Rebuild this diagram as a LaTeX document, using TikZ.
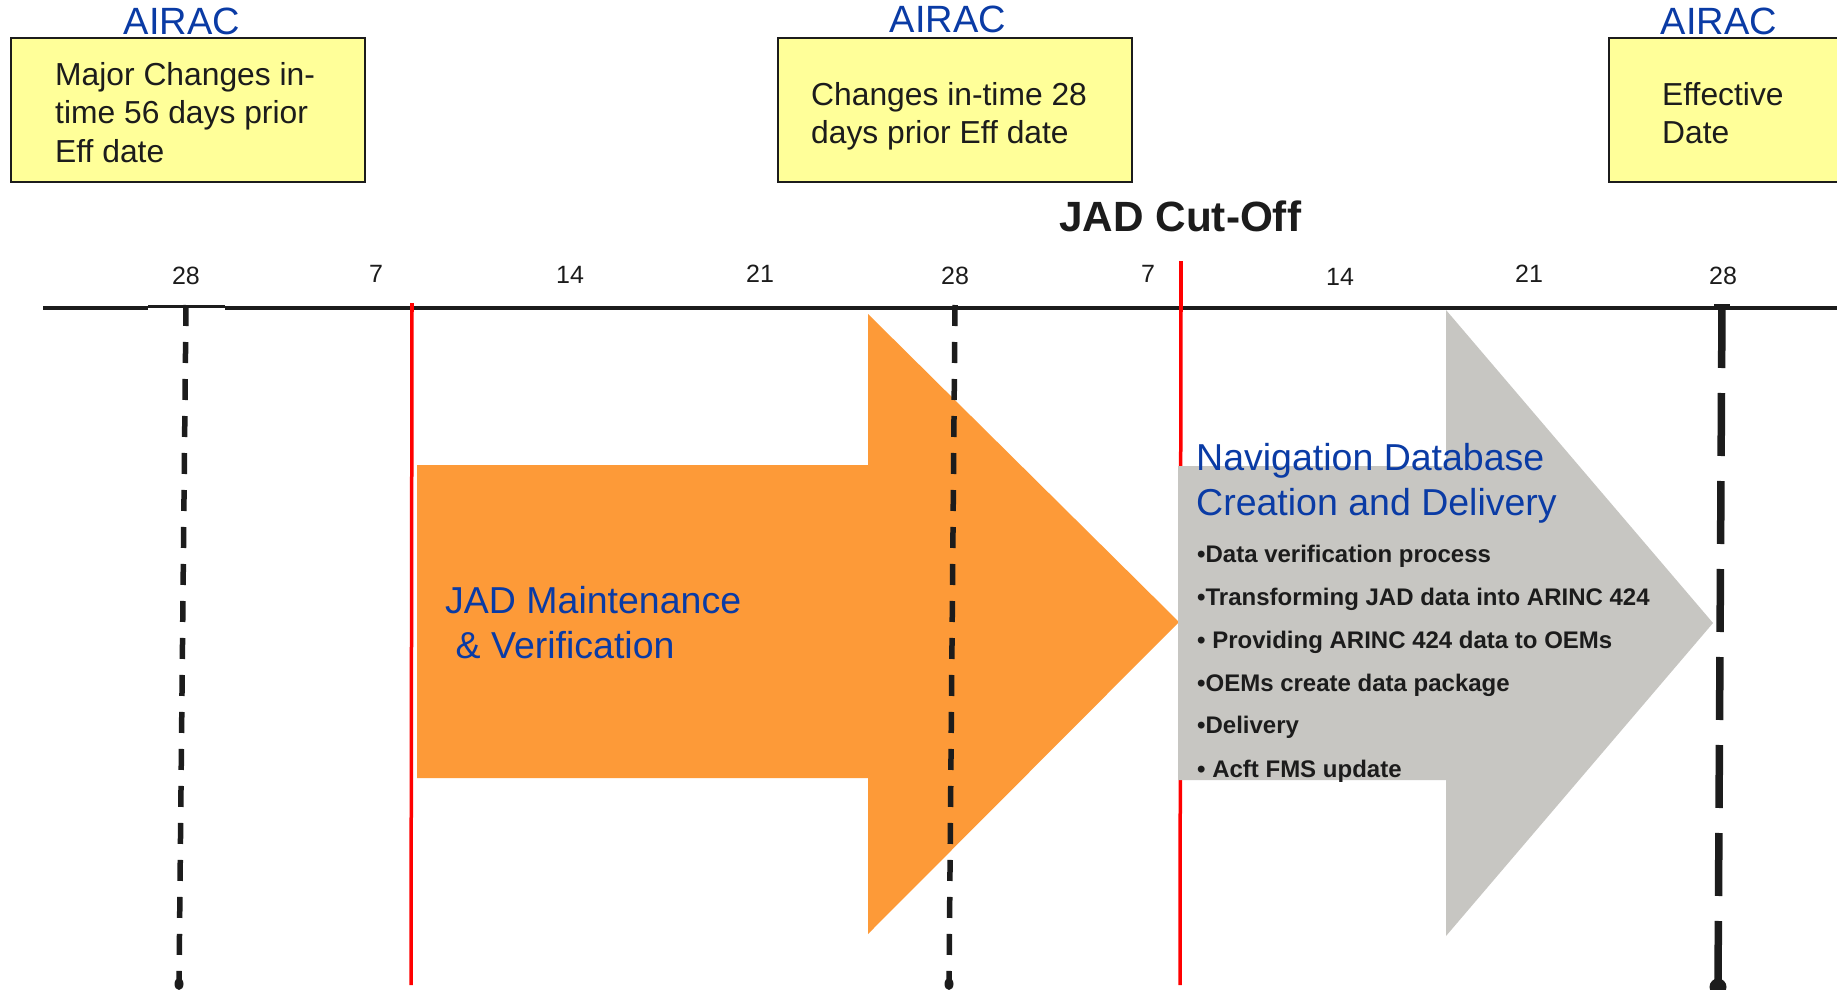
\documentclass[tikz,border=0pt]{standalone}
\usepackage{fontspec}
\setmainfont{Liberation Sans}
\definecolor{airacblue}{HTML}{0A3BA5}
\definecolor{yfill}{HTML}{FFFF99}
\definecolor{orng}{HTML}{FD9A38}
\definecolor{gry}{HTML}{C7C6C2}
\definecolor{ink}{HTML}{1C1C1C}
\definecolor{redl}{HTML}{FF0000}
\begin{document}
\begin{tikzpicture}[x=1pt,y=-1pt,
  ybox/.style={draw=ink, line width=2pt, fill=yfill, rectangle, inner sep=0pt, anchor=north west},
  airactxt/.style={text=airacblue, font=\fontsize{38}{38}\selectfont, anchor=base, inner sep=0pt},
  btxt/.style={text=ink, font=\fontsize{31.8}{38}\selectfont, anchor=base west, inner sep=0pt},
  ticktxt/.style={text=ink, font=\fontsize{25}{25}\selectfont, anchor=base, inner sep=0pt},
  phasetxt/.style={text=airacblue, font=\fontsize{37.5}{45}\selectfont, anchor=base west, inner sep=0pt},
  bultxt/.style={text=ink, font=\bfseries\fontsize{24}{24}\selectfont, anchor=base west, inner sep=0pt},
  cuttxt/.style={text=ink, font=\bfseries\fontsize{42.3}{42}\selectfont, anchor=base west, inner sep=0pt},
  redline/.style={draw=redl, line width=3.5pt},
  shortdash/.style={draw=ink, line width=5.5pt, dash pattern=on 21pt off 16pt},
  longdash/.style={draw=ink, line width=7.5pt, dash pattern=on 63pt off 25pt},
  timeline/.style={draw=ink, line width=4.5pt}
]
\useasboundingbox (0,0) rectangle (1837,990);
\fill[white] (0,0) rectangle (1837,990);

% yellow AIRAC boxes
\node[ybox, minimum width=354pt, minimum height=144pt] (box1) at (10,37) {};
\node[ybox, minimum width=354pt, minimum height=144pt] (box2) at (777,37) {};
\node[ybox, minimum width=270pt, minimum height=144pt] (box3) at (1608,37) {};

\node[airactxt] (air1) at (182,35) {AIRAC};
\node[airactxt] (air2) at (948,33) {AIRAC};
\node[airactxt] (air3) at (1719,35) {AIRAC};

\node[btxt] (b1a) at (55,85) {Major Changes in-};
\node[btxt] (b1b) at (55,123) {time 56 days prior};
\node[btxt] (b1c) at (55,162) {Eff date};
\node[btxt] (b2a) at (811,105) {Changes in-time 28};
\node[btxt] (b2b) at (811,143) {days prior Eff date};
\node[btxt] (b3a) at (1662,105) {Effective};
\node[btxt] (b3b) at (1662,143) {Date};

% JAD cut-off title
\node[cuttxt] (cut) at (1059,231) {JAD Cut-Off};

% tick labels
\node[ticktxt] (t1) at (186,284) {28};
\node[ticktxt] (t2) at (376,282) {7};
\node[ticktxt] (t3) at (570,283) {14};
\node[ticktxt] (t4) at (760,282) {21};
\node[ticktxt] (t5) at (955,284) {28};
\node[ticktxt] (t6) at (1148,282) {7};
\node[ticktxt] (t7) at (1340,285) {14};
\node[ticktxt] (t8) at (1529,282) {21};
\node[ticktxt] (t9) at (1723,284) {28};

% phase arrows
\fill[orng] (417,465) -- (868,465) -- (868,314) -- (1179,622) -- (868,934) -- (868,778) -- (417,778) -- cycle;

% red lines (coordinates)
\coordinate (r1t) at (412,303);
\coordinate (r1b) at (411,985);
\coordinate (r2t) at (1181,261);
\coordinate (r2b) at (1180,985);
\draw[redline] (r1t) -- (r1b);
\draw[redline] (r2t) -- (r2b);

\fill[gry] (1178,466) -- (1446,466) -- (1446,310) -- (1713,623) -- (1446,936) -- (1446,780) -- (1178,780) -- cycle;

% timeline
\coordinate (tl0) at (43,308);
\coordinate (tl1) at (148,308);
\coordinate (tl2) at (148,306.5);
\coordinate (tl3) at (225,306.5);
\coordinate (tl4) at (225,308);
\coordinate (tl5) at (1845,308);
\draw[timeline] (tl0) -- (tl1);
\draw[draw=ink, line width=2.2pt] (tl2) -- (tl3);
\draw[timeline] (tl4) -- (tl5);

% AIRAC dashed lines
\coordinate (d1t) at (186,305);
\coordinate (d1b) at (179,984);
\coordinate (d2t) at (955,305);
\coordinate (d2b) at (949,984);
\coordinate (d3t) at (1722,305);
\coordinate (d3b) at (1718,984);
\draw[shortdash] (d1t) -- (d1b);
\draw[shortdash] (d2t) -- (d2b);
\draw[longdash] (d3t) -- (d3b);
\fill[ink] (d1b) ellipse [x radius=4.5pt, y radius=6pt];
\fill[ink] (d2b) ellipse [x radius=4.5pt, y radius=6pt];
\fill[ink] (1718,987) circle [radius=8.5pt];
\fill[ink] (1714,304) rectangle (1730,310);

% red over timeline
\draw[redline] (412,303) -- (412,312);
\draw[redline] (1181,261) -- (1181,312);

% phase texts
\node[phasetxt] (m1) at (445,613) {JAD Maintenance};
\node[phasetxt] (m2) at (445,658) {\ \& Verification};
\node[phasetxt] (n1) at (1196,470) {Navigation Database};
\node[phasetxt] (n2) at (1196,515) {Creation and Delivery};

\node[bultxt] (u1) at (1197,562) {•Data verification process};
\node[bultxt] (u2) at (1197,605) {•Transforming JAD data into ARINC 424};
\node[bultxt] (u3) at (1197,648) {• Providing ARINC 424 data to OEMs};
\node[bultxt] (u4) at (1197,691) {•OEMs create data package};
\node[bultxt] (u5) at (1197,733) {•Delivery};
\node[bultxt] (u6) at (1197,777) {• Acft FMS update};
\end{tikzpicture}
\end{document}
